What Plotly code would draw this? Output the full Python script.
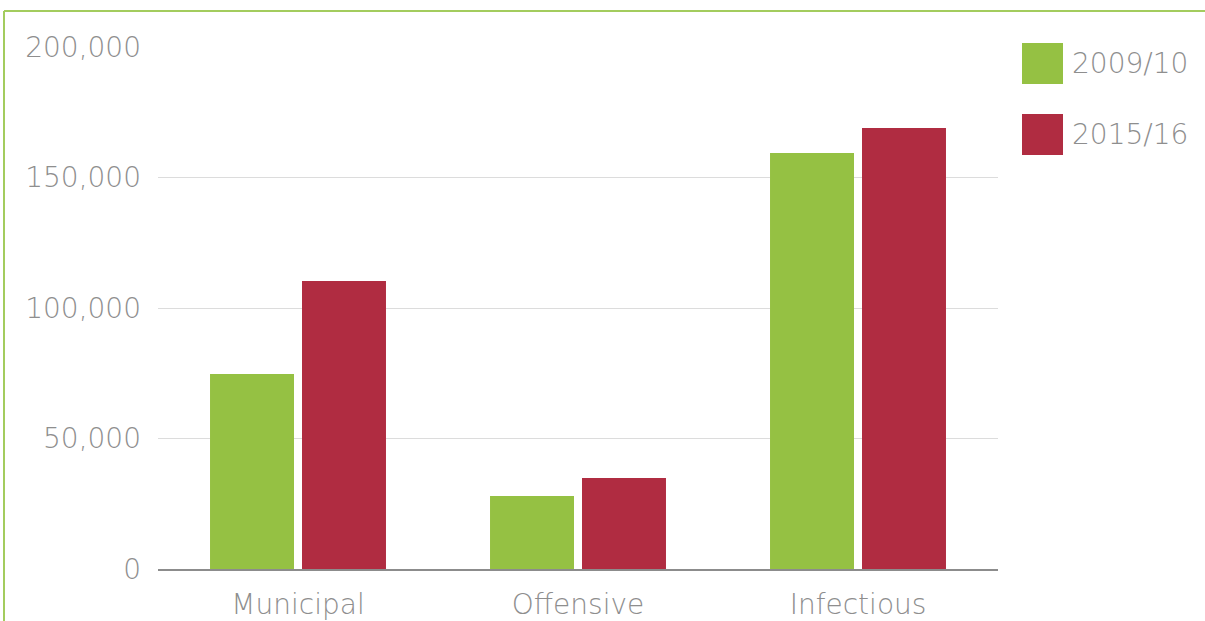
import plotly.graph_objects as go

categories = ["Municipal", "Offensive", "Infectious"]
series_names = ["2009/10", "2015/16"]
values_2009 = [74700, 28000, 159400]
values_2015 = [110300, 34900, 169000]
colors = ["#95c143", "#b02c41"]
y_ticks = [0, 50000, 100000, 150000, 200000]
y_tick_labels = ["0", "50,000", "100,000", "150,000", "200,000"]

FONT = "DejaVu Sans"
GREY = "#8e8e8e"
FW = 200
FS = 28

fig = go.Figure()
for name, vals, col in zip(series_names, [values_2009, values_2015], colors):
    fig.add_trace(go.Bar(x=categories, y=vals, name=name, marker=dict(color=col, line=dict(width=0))))

W, H = 1205, 621
L, R, T, B = 158, 207, 47, 52
pw, ph = W - L - R, H - T - B

def px(x):
    return (x - L) / pw

def py(y):
    return (H - B - y) / ph

shapes = [
    dict(type="line", xref="paper", yref="paper", x0=px(4), x1=px(1210), y0=py(11), y1=py(11),
         line=dict(color="#a3cc5e", width=2)),
    dict(type="line", xref="paper", yref="paper", x0=px(4), x1=px(4), y0=py(11), y1=py(625),
         line=dict(color="#a3cc5e", width=2)),
]
annotations = []
for i, (name, col) in enumerate(zip(series_names, colors)):
    top = 43 + i * 71
    shapes.append(dict(type="rect", xref="paper", yref="paper", x0=px(1022), x1=px(1063),
                       y0=py(top + 41), y1=py(top), fillcolor=col, line=dict(width=0)))
    annotations.append(dict(xref="paper", yref="paper", x=px(1070), y=py(top + 20.5), text=name,
                            showarrow=False, xanchor="left", yanchor="middle",
                            font=dict(family=FONT, size=FS, color=GREY, weight=FW)))

fig.update_layout(
    width=W, height=H,
    margin=dict(l=L, r=R, t=T, b=B, pad=0),
    paper_bgcolor="white", plot_bgcolor="white",
    showlegend=False,
    barmode="group", bargap=0.343, bargroupgap=0.087,
    font=dict(family=FONT, size=FS, color=GREY, weight=FW),
    shapes=shapes, annotations=annotations,
    xaxis=dict(showgrid=False, showline=True, linecolor="#8c8c8c", linewidth=2,
               ticks="", ticklabelstandoff=9, automargin=False,
               tickfont=dict(family=FONT, size=FS, color=GREY, weight=FW)),
    yaxis=dict(range=[0, 200000], tickvals=y_ticks, ticktext=y_tick_labels,
               showgrid=True, gridcolor="#dcdcdc", gridwidth=1, zeroline=False,
               showline=False, ticks="", ticklabelstandoff=16, automargin=False,
               tickfont=dict(family=FONT, size=FS, color=GREY, weight=FW)),
)

fig.write_html("out.html")
